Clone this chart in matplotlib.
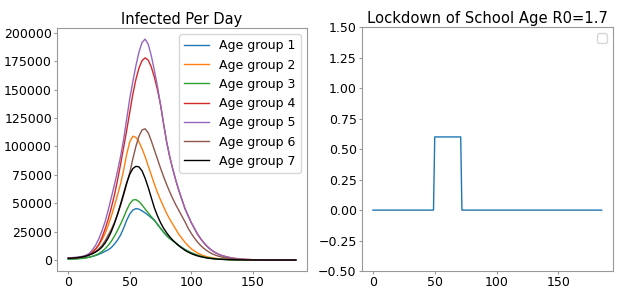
import numpy as np
import matplotlib
matplotlib.use('Agg')
import matplotlib.pyplot as plt

# days: every 2.5 up to 127.5, then every 5 up to 185
days = list(np.arange(0, 130, 2.5)) + list(range(130, 186, 5))

# infected per day
group1 = [1000, 1050, 1150, 1300, 1500, 1800, 2200, 2700, 3300, 4100, 5100, 6300, 7700, 9000,
          11000, 14000, 17500, 22000, 28000, 35000, 40500, 44000, 45300, 44800, 43300, 41500,
          39500, 37200, 35000, 31500, 28000, 24500, 21500, 19000, 17000, 14800, 12800, 10900,
          9200, 7700, 6400, 5300, 4300, 3500, 2800, 2200, 1800, 1400, 1100, 880, 700, 550,
          430, 270, 170, 105, 65, 40, 25, 16, 10, 6, 4, 2]
group2 = [1500, 1650, 1850, 2150, 2600, 3300, 4200, 5600, 7500, 10000, 13500, 18000, 23500,
          30500, 38500, 47500, 57000, 67000, 79000, 93000, 104000, 109000, 108000, 104000, 98000,
          91000, 83000, 75000, 67000, 59500, 53000, 47000, 41000, 36000, 31500, 27000, 22500,
          19000, 15500, 12500, 10000, 8000, 6300, 5000, 3900, 3000, 2400, 1900, 1500, 1150, 900,
          700, 550, 330, 200, 120, 75, 45, 28, 17, 10, 6, 4, 2]
group3 = [800, 850, 950, 1100, 1300, 1600, 2000, 2600, 3400, 4400, 5800, 7600, 10000, 13000,
          16500, 21000, 26000, 31500, 37500, 44000, 49500, 52800, 53200, 51500, 48500, 45000,
          41500, 38200, 35200, 31500, 28000, 24500, 21500, 19000, 17000, 14800, 12800, 10900,
          9200, 7700, 6400, 5300, 4300, 3500, 2800, 2200, 1800, 1400, 1100, 880, 700, 550,
          430, 270, 170, 105, 65, 40, 25, 16, 10, 6, 4, 2]
group4 = [1500, 1600, 1800, 2100, 2500, 3000, 3800, 5000, 7000, 10000, 14000, 20000, 27500,
          36000, 46000, 57000, 70000, 84000, 99000, 114000, 130000, 146000, 159000, 169000,
          175500, 178000, 176000, 170000, 161000, 150000, 137000, 120000, 104000, 91000, 80000,
          70000, 61000, 53000, 45000, 39000, 33000, 28000, 23000, 19000, 15500, 12500, 10000,
          8000, 6300, 5000, 4000, 3200, 2500, 1500, 900, 550, 330, 200, 120, 75, 45, 28, 17, 10]
group5 = [2000, 2100, 2300, 2600, 3000, 3500, 4500, 6300, 9400, 13500, 19000, 26000, 34000,
          44000, 55000, 66000, 78000, 91000, 106000, 124000, 142000, 157000, 171000, 183000,
          191500, 194500, 190000, 180000, 167000, 153000, 137000, 120000, 104000, 91000, 80000,
          70000, 61000, 53000, 45000, 39000, 33000, 28000, 23000, 19000, 15500, 12500, 10000,
          8000, 6300, 5000, 4000, 3200, 2500, 1500, 900, 550, 330, 200, 120, 75, 45, 28, 17, 10]
group6 = [1500, 1600, 1800, 2100, 2500, 3000, 3700, 4700, 6000, 7800, 10000, 13000, 17000,
          22000, 27000, 33000, 40000, 48000, 57000, 67000, 77000, 89000, 100000, 109000, 114500,
          115500, 112000, 105000, 97000, 89000, 81000, 73500, 66500, 60000, 54000, 48500, 43500,
          38500, 33500, 28000, 23500, 19500, 16000, 13000, 10500, 8400, 6700, 5300, 4200, 3300,
          2600, 2000, 1600, 950, 570, 340, 200, 120, 72, 43, 26, 16, 10, 6]
group7 = [1500, 1650, 1850, 2100, 2500, 3000, 3700, 4700, 5800, 7200, 9000, 11500, 15000, 19500,
          25000, 32000, 40000, 49000, 58500, 68000, 75500, 80500, 82500, 82000, 78500, 72000,
          64000, 55000, 46000, 39000, 33000, 28000, 24000, 20500, 17500, 15000, 12500, 10500,
          8500, 7000, 5700, 4600, 3700, 3000, 2400, 1900, 1500, 1200, 950, 750, 600, 480,
          380, 240, 150, 95, 60, 38, 24, 15, 9, 6, 4, 2]

groups = [group1, group2, group3, group4, group5, group6, group7]
labels = ['Age group 1', 'Age group 2', 'Age group 3', 'Age group 4',
          'Age group 5', 'Age group 6', 'Age group 7']
colors = ['C0', 'C1', 'C2', 'C3', 'C4', 'C5', 'k']

# school lockdown strength
lock_days = [0, 49, 50, 71, 72, 185]
lock_vals = [0, 0, 0.6, 0.6, 0, 0]

plt.rcParams['font.size'] = 9
plt.rcParams['axes.edgecolor'] = '#999999'
plt.rcParams['xtick.color'] = '#999999'
plt.rcParams['ytick.color'] = '#999999'
plt.rcParams['xtick.labelcolor'] = 'black'
plt.rcParams['ytick.labelcolor'] = 'black'
plt.rcParams['xtick.major.size'] = 2
plt.rcParams['ytick.major.size'] = 2
plt.rcParams['xtick.major.pad'] = 1.5
plt.rcParams['ytick.major.pad'] = 1.5

fig = plt.figure(figsize=(6.32, 2.95), dpi=100)
ax1 = fig.add_axes([0.090, 0.081, 0.396, 0.824])
ax2 = fig.add_axes([0.572, 0.081, 0.398, 0.827])

for vals, lab, col in zip(groups, labels, colors):
    ax1.plot(days, vals, color=col, label=lab, linewidth=1.0)
ax1.set_title('Infected Per Day', fontsize=10.5, pad=3)
ax1.set_xticks([0, 50, 100, 150])
ax1.set_yticks(np.arange(0, 200001, 25000))
ax1.legend(loc='upper right', fontsize=9)

ax2.plot(lock_days, lock_vals, color='C0', linewidth=1.0)
ax2.set_ylim(-0.5, 1.5)
ax2.set_xticks([0, 50, 100, 150])
ax2.set_title('Lockdown of School Age R0=1.7', fontsize=10.6, pad=3)
ax2.legend(loc='upper right')

fig.savefig('out.png', dpi=100)
